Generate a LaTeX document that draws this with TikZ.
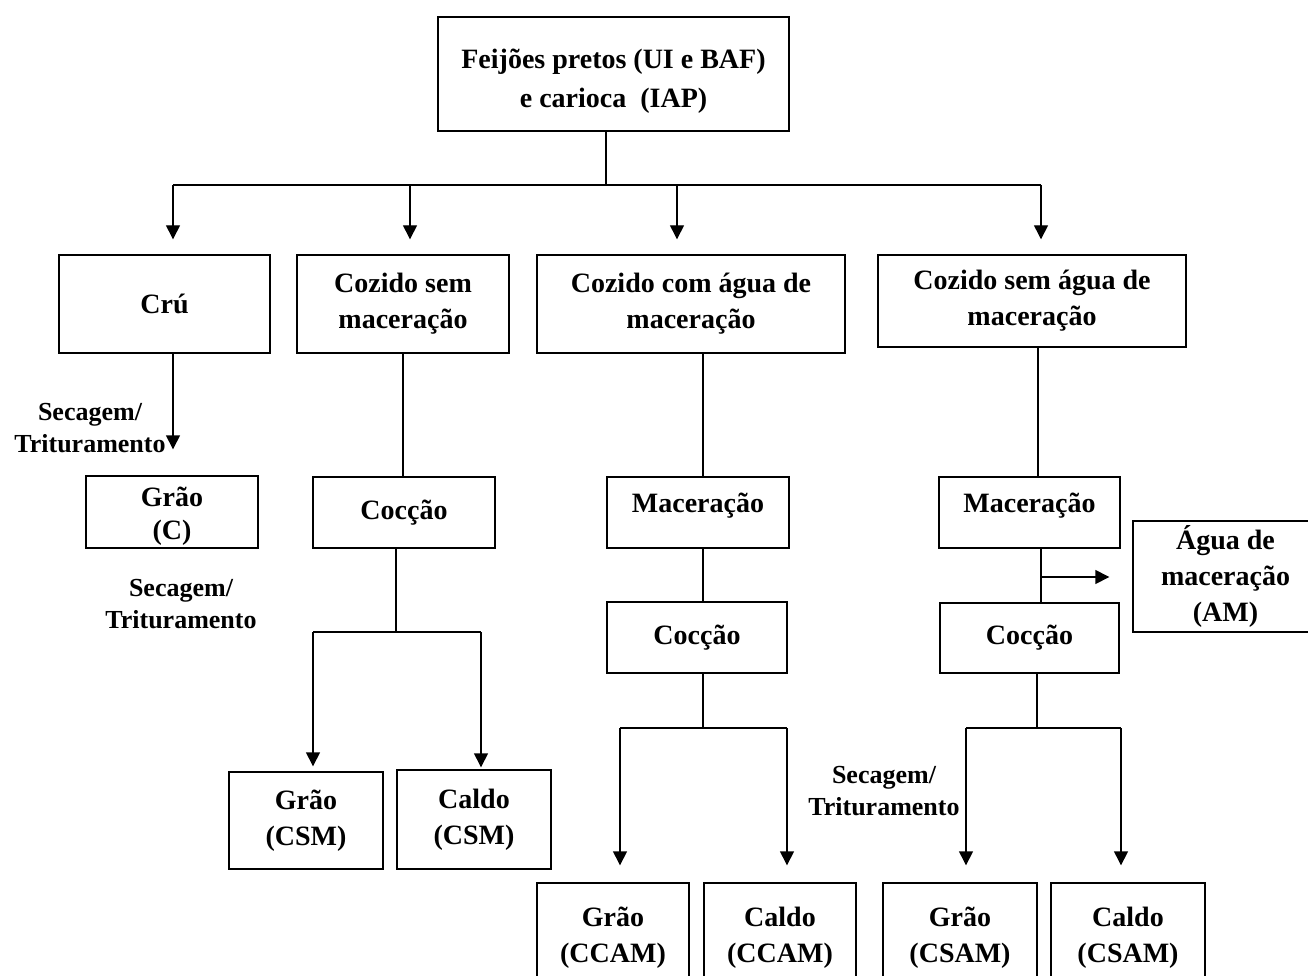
\documentclass[tikz,border=0pt]{standalone}
\usepackage{fontspec}
\setmainfont{Liberation Serif}
\usetikzlibrary{arrows.meta}
\begin{document}
\begin{tikzpicture}[x=1pt,y=-1pt,
  box/.style={draw, line width=1.4pt, rectangle, inner sep=0pt, align=center,
    font=\fontsize{28}{36}\selectfont\bfseries},
  lab/.style={inner sep=0pt, align=center, font=\fontsize{26}{32}\selectfont\bfseries},
  ln/.style={line width=1.4pt},
  arr/.style={line width=1.4pt, -{Triangle[width=14pt,length=14pt]}}]
\useasboundingbox (0,0) rectangle (1308,976);
\fill[white] (0,0) rectangle (1308,976);
\clip (0,0) rectangle (1308,976);

% boxes
\node[box, minimum width=351, minimum height=114, font=\fontsize{28}{39}\selectfont\bfseries] (top) at (613.5,74) {\rule{0pt}{33pt}Feijões pretos (UI e BAF)\\e carioca\ \ (IAP)};
\node[box, minimum width=211, minimum height=98] (cru) at (164.5,304) {Crú};
\node[box, minimum width=212, minimum height=98] (csm) at (403,304) {Cozido sem\\maceração};
\node[box, minimum width=308, minimum height=98] (ccam) at (691,304) {Cozido com água de\\maceração};
\node[box, minimum width=308, minimum height=92] (csam) at (1032,301) {Cozido sem água de\\maceração};
\node[box, minimum width=172, minimum height=72, font=\fontsize{28}{33}\selectfont\bfseries] (graoC) at (172,512) {\rule{0pt}{27pt}Grão\\(C)};
\node[box, minimum width=182, minimum height=71] (coccCSM) at (404,512.5) {Cocção};
\node[box, minimum width=182, minimum height=71, text depth=20pt] (macCCAM) at (698,512.5) {Maceração};
\node[box, minimum width=180, minimum height=71] (coccCCAM) at (697,637.5) {Cocção};
\node[box, minimum width=181, minimum height=71, text depth=20pt] (macCSAM) at (1029.5,512.5) {Maceração};
\node[box, minimum width=179, minimum height=70] (coccCSAM) at (1029.5,638) {Cocção};
\node[box, minimum width=185, minimum height=111] (agua) at (1225.5,576.5) {Água de\\maceração\\(AM)};
\node[box, minimum width=154, minimum height=97] (graoCSM) at (306,820.5) {Grão\\(CSM)};
\node[box, minimum width=154, minimum height=99] (caldoCSM) at (474,819.5) {Caldo\\(CSM)};
\node[box, minimum width=152, minimum height=100] (graoCCAM) at (613,933) {\rule{0pt}{28pt}Grão\\(CCAM)};
\node[box, minimum width=152, minimum height=100] (caldoCCAM) at (780,933) {\rule{0pt}{28pt}Caldo\\(CCAM)};
\node[box, minimum width=154, minimum height=100] (graoCSAM) at (960,933) {\rule{0pt}{28pt}Grão\\(CSAM)};
\node[box, minimum width=154, minimum height=100] (caldoCSAM) at (1128,933) {\rule{0pt}{28pt}Caldo\\(CSAM)};

% labels
\node[lab] (l1) at (90,428) {Secagem/\\Trituramento};
\node[lab] (l2) at (181,604) {Secagem/\\Trituramento};
\node[lab] (l3) at (884,791) {Secagem/\\Trituramento};

% top distribution
\coordinate (jt) at (606,185);
\coordinate (h1) at (173,185);
\coordinate (h2) at (410,185);
\coordinate (h3) at (677,185);
\coordinate (h4) at (1041,185);
\draw[ln] (top.south -| jt) -- (jt);
\draw[ln] (h1) -- (h4);
\draw[arr, shorten >=15pt] (h1) -- (h1 |- cru.north);
\draw[arr, shorten >=15pt] (h2) -- (h2 |- csm.north);
\draw[arr, shorten >=15pt] (h3) -- (h3 |- ccam.north);
\draw[arr, shorten >=15pt] (h4) -- (h4 |- csam.north);

% Cru branch
\draw[arr, shorten >=26pt] (cru.south -| h1) -- (graoC.north -| h1);

% CSM branch
\draw[ln] (csm.south) -- (coccCSM.north -| csm.south);
\coordinate (b1) at (396,632);
\coordinate (b1l) at (313,632);
\coordinate (b1r) at (481,632);
\draw[ln] (coccCSM.south -| b1) -- (b1);
\draw[ln] (b1l) -- (b1r);
\draw[arr, shorten >=5pt] (b1l) -- (b1l |- graoCSM.north);
\draw[arr, shorten >=2pt] (b1r) -- (b1r |- caldoCSM.north);

% CCAM branch
\coordinate (v3) at (703,0);
\draw[ln] (ccam.south -| v3) -- (macCCAM.north -| v3);
\draw[ln] (macCCAM.south -| v3) -- (coccCCAM.north -| v3);
\coordinate (b2) at (703,728);
\coordinate (b2l) at (620,728);
\coordinate (b2r) at (787,728);
\draw[ln] (coccCCAM.south -| b2) -- (b2);
\draw[ln] (b2l) -- (b2r);
\draw[arr, shorten >=17pt] (b2l) -- (b2l |- graoCCAM.north);
\draw[arr, shorten >=17pt] (b2r) -- (b2r |- caldoCCAM.north);

% CSAM branch
\coordinate (v4) at (1038,0);
\coordinate (a1) at (1041,577);
\draw[ln] (csam.south -| v4) -- (macCSAM.north -| v4);
\draw[ln] (macCSAM.south -| a1) -- (coccCSAM.north -| a1);
\draw[arr, shorten >=23pt] (a1) -- (a1 -| agua.west);
\coordinate (b3) at (1037,728);
\coordinate (b3l) at (966,728);
\coordinate (b3r) at (1121,728);
\draw[ln] (coccCSAM.south -| b3) -- (b3);
\draw[ln] (b3l) -- (b3r);
\draw[arr, shorten >=17pt] (b3l) -- (b3l |- graoCSAM.north);
\draw[arr, shorten >=17pt] (b3r) -- (b3r |- caldoCSAM.north);
\end{tikzpicture}
\end{document}
